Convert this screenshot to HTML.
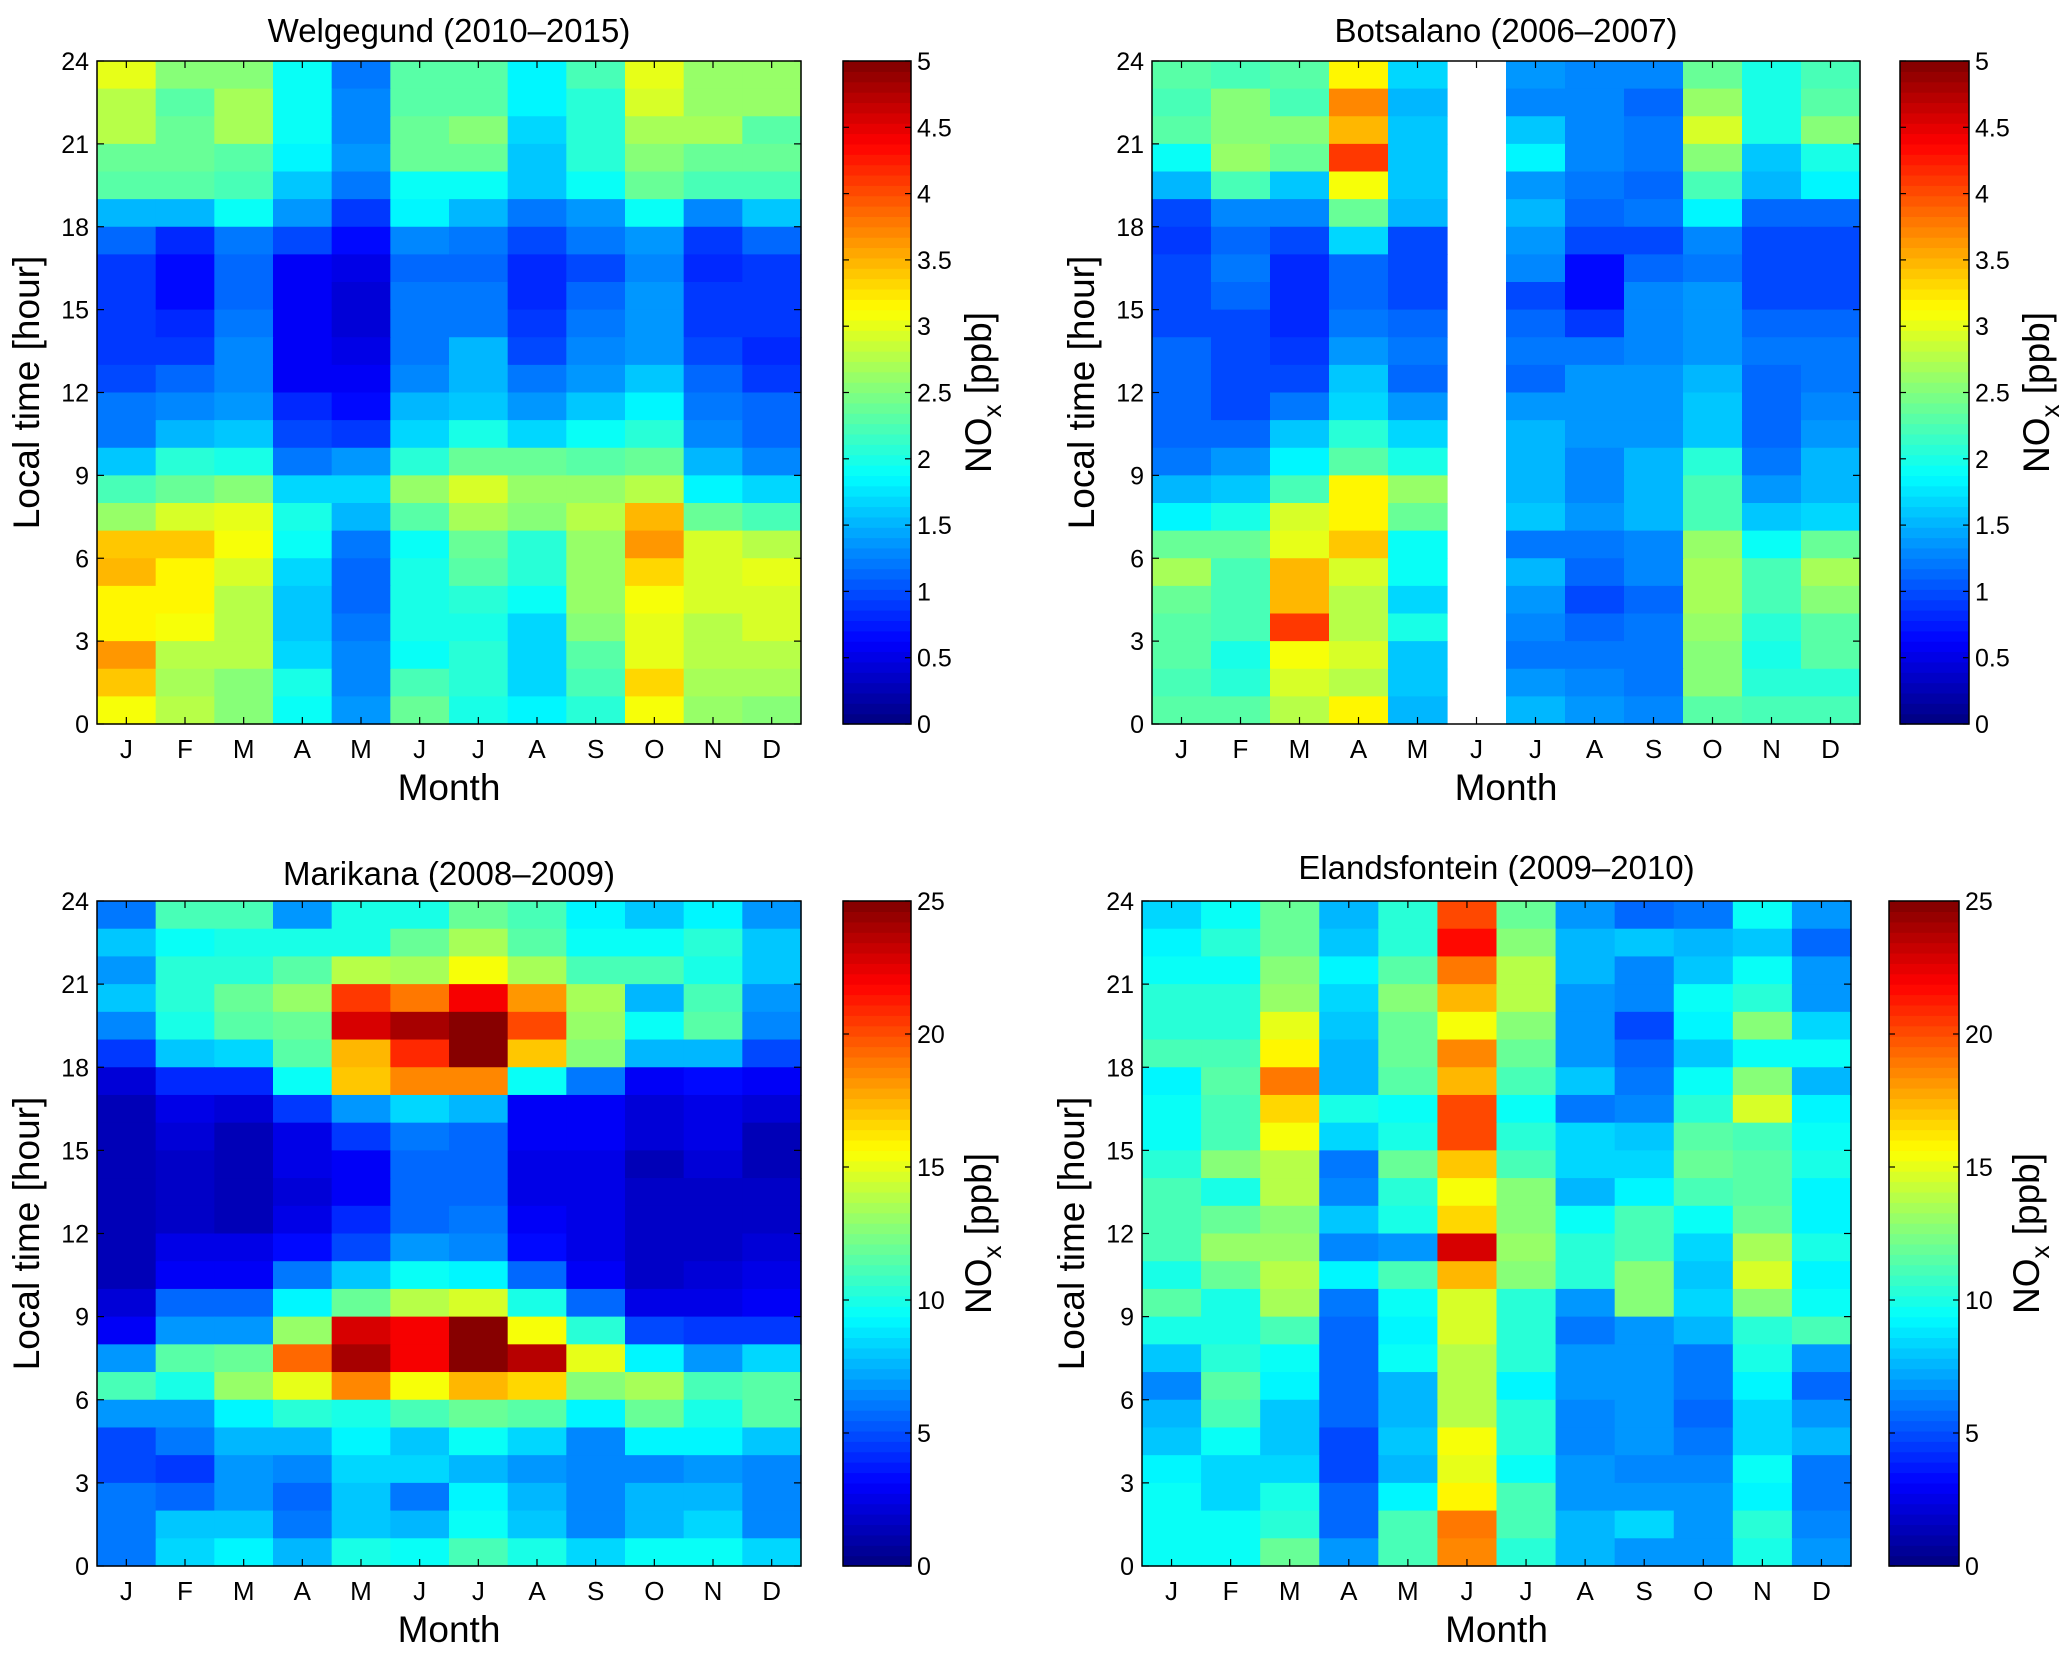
<!DOCTYPE html>
<html><head><meta charset="utf-8"><style>
html,body{margin:0;padding:0;background:#fff;overflow:hidden;}
svg text{font-family:"Liberation Sans",Arial,sans-serif;fill:#000;}
</style></head><body>
<svg id="fig" width="2067" height="1652" viewBox="0 0 2067 1652" xmlns="http://www.w3.org/2000/svg"></svg>
<script>
// Categories and tick labels
const months = ["J","F","M","A","M","J","J","A","S","O","N","D"];
const hourTicks = [0,3,6,9,12,15,18,21,24];
const cbTicksSmall = [0,0.5,1,1.5,2,2.5,3,3.5,4,4.5,5];
const cbTicksLarge = [0,5,10,15,20,25];
// Rows listed from hour 23 (top) down to hour 0 (bottom)
const welgegund = [
[3.0,2.5,2.5,1.9,1.2,2.3,2.3,1.8,2.2,3.0,2.6,2.6],
[2.8,2.3,2.7,1.9,1.3,2.3,2.3,1.8,2.1,2.9,2.6,2.6],
[2.8,2.4,2.7,1.9,1.3,2.4,2.5,1.7,2.1,2.7,2.7,2.3],
[2.4,2.4,2.3,1.8,1.4,2.4,2.4,1.6,2.1,2.5,2.4,2.4],
[2.3,2.3,2.2,1.6,1.2,1.9,1.9,1.6,1.9,2.4,2.2,2.2],
[1.5,1.5,1.9,1.4,0.9,1.8,1.5,1.2,1.4,1.9,1.3,1.6],
[1.1,0.8,1.2,1.0,0.7,1.3,1.2,1.0,1.2,1.4,0.9,1.1],
[0.9,0.7,1.1,0.6,0.5,1.1,1.1,0.8,1.0,1.3,0.8,0.9],
[0.9,0.7,1.1,0.6,0.4,1.2,1.2,0.8,1.1,1.4,0.9,0.9],
[0.9,0.8,1.2,0.6,0.4,1.2,1.2,0.9,1.2,1.4,0.9,0.9],
[0.9,0.9,1.3,0.6,0.5,1.2,1.5,1.0,1.3,1.4,1.0,0.8],
[1.0,1.1,1.3,0.6,0.6,1.3,1.5,1.2,1.4,1.6,1.1,0.9],
[1.2,1.3,1.4,0.8,0.7,1.5,1.6,1.4,1.6,1.8,1.2,1.1],
[1.2,1.5,1.6,1.0,0.9,1.7,2.0,1.7,1.9,2.1,1.3,1.1],
[1.6,2.1,2.0,1.2,1.4,2.1,2.4,2.4,2.3,2.4,1.5,1.3],
[2.2,2.4,2.5,1.7,1.7,2.6,2.9,2.6,2.6,2.8,1.8,1.7],
[2.6,2.9,3.0,2.0,1.5,2.3,2.7,2.5,2.8,3.5,2.4,2.2],
[3.4,3.4,3.1,1.9,1.2,1.9,2.4,2.1,2.6,3.6,2.9,2.8],
[3.5,3.2,2.9,1.7,1.1,2.0,2.3,2.1,2.6,3.3,2.9,3.0],
[3.2,3.2,2.8,1.6,1.1,2.0,2.1,1.9,2.6,3.1,2.9,2.9],
[3.2,3.1,2.8,1.6,1.2,2.0,2.0,1.7,2.5,3.0,2.8,2.9],
[3.6,2.8,2.8,1.7,1.3,1.9,2.1,1.7,2.3,3.0,2.8,2.8],
[3.4,2.7,2.5,2.0,1.3,2.2,2.1,1.7,2.2,3.3,2.7,2.7],
[3.1,2.8,2.5,1.9,1.4,2.4,2.0,1.8,2.1,3.1,2.6,2.5]];
const n = null;
const botsalano = [
[2.3,2.2,2.3,3.2,1.7,n,1.4,1.3,1.3,2.4,2.0,2.2],
[2.2,2.5,2.2,3.7,1.5,n,1.3,1.3,1.1,2.6,2.0,2.3],
[2.3,2.5,2.5,3.5,1.6,n,1.6,1.3,1.2,2.9,2.0,2.5],
[1.9,2.6,2.4,4.1,1.6,n,1.8,1.3,1.2,2.5,1.6,2.0],
[1.5,2.2,1.6,3.1,1.6,n,1.4,1.2,1.1,2.2,1.5,1.8],
[1.0,1.3,1.3,2.4,1.5,n,1.5,1.1,1.2,1.8,1.1,1.1],
[0.9,1.1,1.0,1.7,1.0,n,1.4,1.0,1.0,1.3,1.0,1.0],
[1.0,1.2,0.8,1.1,1.0,n,1.3,0.7,1.1,1.2,1.0,1.0],
[1.0,1.1,0.8,1.1,1.0,n,1.0,0.7,1.3,1.4,1.0,1.0],
[1.0,1.0,0.8,1.2,1.1,n,1.1,0.9,1.3,1.4,1.1,1.1],
[1.1,1.0,0.9,1.4,1.2,n,1.2,1.2,1.3,1.4,1.2,1.2],
[1.1,1.0,1.0,1.6,1.1,n,1.1,1.4,1.4,1.5,1.1,1.2],
[1.1,1.0,1.2,1.7,1.4,n,1.4,1.4,1.4,1.6,1.1,1.3],
[1.1,1.1,1.6,2.1,1.7,n,1.5,1.4,1.4,1.6,1.1,1.4],
[1.2,1.4,1.8,2.3,2.0,n,1.5,1.3,1.5,2.1,1.2,1.5],
[1.5,1.6,2.2,3.2,2.6,n,1.5,1.3,1.5,2.2,1.4,1.5],
[1.8,2.0,2.9,3.2,2.4,n,1.6,1.4,1.5,2.2,1.6,1.7],
[2.4,2.4,3.0,3.4,1.9,n,1.2,1.2,1.3,2.6,1.9,2.4],
[2.7,2.2,3.5,2.9,1.9,n,1.5,1.1,1.3,2.7,2.2,2.7],
[2.4,2.2,3.5,2.8,1.7,n,1.4,1.0,1.1,2.7,2.2,2.5],
[2.3,2.2,4.1,2.8,2.0,n,1.3,1.1,1.2,2.6,2.1,2.3],
[2.3,2.0,3.1,2.9,1.6,n,1.2,1.2,1.2,2.5,2.0,2.3],
[2.2,2.1,2.9,2.8,1.6,n,1.4,1.3,1.2,2.5,2.1,2.1],
[2.3,2.3,2.8,3.2,1.5,n,1.5,1.4,1.3,2.3,2.2,2.2]];
const marikana = [
[6,11,11,7,10,10,12,11,9,8,9,7],
[8,9.5,10,10,10,12,13.5,11.5,9.5,9.5,10.5,8],
[7,10.5,10.5,11.5,14,13.5,15.5,13.5,11,11,10,8],
[8,10.5,12,13,20.5,19,22,18,13.5,7.5,11,7],
[6.5,10,11.5,12,23,24,25,20,13,9.5,11.5,6.5],
[4.5,8,8.5,11.5,17.5,21,25,17,12.5,7.5,7.5,5],
[2,4,4,9.5,17,18.5,18.5,9.5,6,3,3.5,3],
[1.5,2.5,2,4.5,7,8.5,7.5,3,3,2,2.5,2],
[1.2,2,1.5,2.5,4.5,6,5.5,3,3,2,2.5,1.5],
[1.2,1.7,1.5,2.5,3,5.5,5.5,2.5,2.5,1.5,2,1.5],
[1.2,1.7,1.5,2,3,5.5,5.5,2.5,2.5,1.8,1.8,1.8],
[1.2,1.7,1.5,2.5,4,5.5,6,3,2.5,1.8,1.8,1.8],
[1.5,2.5,2.5,3.5,5,7,6.5,3.5,2.5,1.8,1.8,2],
[1.5,3,3,6,8,9.5,9,5.5,3,1.8,2,2.5],
[2,5.5,5.5,9,12,14,14.5,10,5.5,2.5,2.5,3],
[3,7,7,13,23,22,25,15.5,10.5,5,4.5,4.5],
[7,11.5,12,19.5,24,22,25,23.5,15,9,7,8.5],
[11,10,13,15,18.5,15.5,17.5,16.5,12.5,13.5,11,11.5],
[7,7,9,10.5,10,11,12,11.5,9,12,10,11.5],
[5,6,7.5,7.5,9,8,9.5,8.5,6.5,9,9,8],
[5,4.5,7,6.5,8.5,8.5,7.5,7,6.5,6.5,7,6.5],
[6,5.5,7,5.5,8,6,9,7.5,6.5,7.5,7.5,6.5],
[6,8,8,6,8,7.5,9.5,8,6.5,7.5,8.5,6.5],
[6,8.5,9,7.5,10,9.5,11,10,8.5,9.5,9.5,8.5]];
const elandsfontein = [
[8.5,9.5,12,7.5,10.5,20,12,7,5.5,6,9.5,7],
[9,10.5,12,8,10.5,21.5,12.5,7.5,8,7.5,8,5.5],
[9.5,9.5,12.5,9,11.5,19,14,7.5,6.5,8,9.5,7],
[10.5,10.5,13,8.5,12.5,17.5,14,7,6.5,9.5,10.5,7],
[10.5,10.5,15,8,12,15.5,12.5,7,5,9,12.5,8.5],
[11,11,16,7.5,12,18.5,12,7,5.5,8,9.5,9.5],
[9,11.5,19,7.5,11.5,17.5,11,8,6,9.5,12.5,7.5],
[9.5,11,16.5,10,9.5,20,9.5,6,6.5,10.5,14.5,9],
[9.5,11,15.5,8.5,10,20,10.5,8.5,8,11.5,11,9.5],
[10.5,12.5,14,6,12,17,11,8.5,8.5,12,11.5,10],
[11,10,14,6.5,10.5,15.5,12.5,7.5,9,11,11.5,9],
[11,12,12.5,8,10,16.5,12.5,9.5,11,9.5,12,9],
[11,13,13,6.5,7,23,13,10.5,11,8.5,13.5,10],
[10,12,14,9,11,17.5,12.5,10.5,12.5,8,14.5,9],
[11.5,10,13.5,6,9.5,14.5,10.5,7,12.5,8.5,12.5,9.5],
[10,10,11,5.5,9,14.5,10.5,6,7,7.5,10.5,11],
[8,10.5,9.5,5.5,9.5,14,10.5,7,7,6,10,7],
[6.5,11.5,9,5.5,7.5,14,9,7,7,6,9,5.5],
[7.5,11,8,5.5,7.5,14,10.5,6.5,7,5.5,8.5,7],
[8,9.5,8,5,8,15.5,10.5,6.5,7,6,8.5,7.5],
[9,8.5,8.5,5,7.5,15,9.5,7,6.5,6.5,9.5,6],
[9.5,8.5,10,5.5,9,16,11,7,7,7,9,6],
[9.5,9.5,10.5,5.5,11,19,11,7.5,8.5,7,10.5,6.5],
[9.5,9.5,12,7,11,18.5,10.5,7.5,7,7,10,7]];

const NS = "http://www.w3.org/2000/svg";
const svg = document.getElementById('fig');
function mk(tag, attrs, parent){ const e=document.createElementNS(NS,tag); for(const k in attrs) e.setAttribute(k,attrs[k]); (parent||svg).appendChild(e); return e; }
function jet(f){
  let i=Math.floor(f*64); if(i<0)i=0; if(i>63)i=63; const t=(i+0.5)/64;
  const c=x=>Math.round(255*Math.max(0,Math.min(1,x)));
  return `rgb(${c(1.5-Math.abs(4*t-3))},${c(1.5-Math.abs(4*t-2))},${c(1.5-Math.abs(4*t-1))})`;
}
function panel(cfg){
  const {id,title,data,vmax,cbTicks,L,R,T,B,cbL,cbR,titleY} = cfg;
  const g = mk('g',{});
  
  
  const xs = i => L + (R-L)*i/12;
  const ys = h => B - (B-T)*h/24;
  data.forEach((row,r)=>{
    const hour = 23-r;
    row.forEach((v,c)=>{
      if(v===null) return;
      const rect = mk('rect',{x:xs(c),y:ys(hour+1),width:xs(c+1)-xs(c)+0.6,height:ys(hour)-ys(hour+1)+0.6,fill:jet(v/vmax)},g);
      
      
    });
  });
  const frame = mk('rect',{x:L,y:T,width:R-L,height:B-T,fill:'none',stroke:'#000','stroke-width':1.5},g);
  
  
  hourTicks.forEach(h=>{
    const y=ys(h);
    mk('line',{x1:L,x2:L+7,y1:y,y2:y,stroke:'#000','stroke-width':1.2},g);
    mk('line',{x1:R,x2:R-7,y1:y,y2:y,stroke:'#000','stroke-width':1.2},g);
    const t=mk('text',{x:L-8,y:y+9,'text-anchor':'end','font-size':25},g); t.textContent=h;
    
    
  });
  months.forEach((m,i)=>{
    const x=xs(i+0.5);
    mk('line',{x1:x,x2:x,y1:B,y2:B-7,stroke:'#000','stroke-width':1.2},g);
    mk('line',{x1:x,x2:x,y1:T,y2:T+7,stroke:'#000','stroke-width':1.2},g);
    const t=mk('text',{x:x,y:B+34,'text-anchor':'middle','font-size':26},g); t.textContent=m;
    
    
  });
  const tt=mk('text',{x:(L+R)/2,y:titleY,'text-anchor':'middle','font-size':33},g); tt.textContent=title;
  
  
  const xl=mk('text',{x:(L+R)/2,y:B+76,'text-anchor':'middle','font-size':37},g); xl.textContent='Month';
  
  
  const yl=mk('text',{x:0,y:0,'text-anchor':'middle','font-size':37,transform:`translate(${L-58},${(T+B)/2}) rotate(-90)`},g); yl.textContent='Local time [hour]';
  
  
  const cb=mk('g',{},g);
  
  
  for(let i=0;i<64;i++){
    const y0=B-(B-T)*(i+1)/64, y1=B-(B-T)*i/64;
    mk('rect',{x:cbL,y:y0,width:cbR-cbL,height:y1-y0+0.6,fill:jet((i+0.5)/64)},cb);
  }
  mk('rect',{x:cbL,y:T,width:cbR-cbL,height:B-T,fill:'none',stroke:'#000','stroke-width':1.5},cb);
  cbTicks.forEach(v=>{
    const y=B-(B-T)*v/vmax;
    mk('line',{x1:cbL,x2:cbL+6,y1:y,y2:y,stroke:'#000','stroke-width':1.2},cb);
    mk('line',{x1:cbR,x2:cbR-6,y1:y,y2:y,stroke:'#000','stroke-width':1.2},cb);
    const t=mk('text',{x:cbR+6,y:y+9,'font-size':25},cb); t.textContent=v;
    
    
  });
  const cl=mk('text',{x:0,y:0,'text-anchor':'middle','font-size':37,transform:`translate(${cbR+80},${(T+B)/2}) rotate(-90)`},g);
  cl.innerHTML='NO<tspan font-size="26" dy="10">x</tspan><tspan dy="-10"> [ppb]</tspan>';
  
  
}
panel({id:'welgegund',title:'Welgegund (2010\u20132015)',data:welgegund,vmax:5,cbTicks:cbTicksSmall,L:97,R:801,T:61,B:724,cbL:843,cbR:911,titleY:42});
panel({id:'botsalano',title:'Botsalano (2006\u20132007)',data:botsalano,vmax:5,cbTicks:cbTicksSmall,L:1152,R:1860,T:61,B:724,cbL:1900,cbR:1969,titleY:42});
panel({id:'marikana',title:'Marikana (2008\u20132009)',data:marikana,vmax:25,cbTicks:cbTicksLarge,L:97,R:801,T:901,B:1566,cbL:843,cbR:911,titleY:885});
panel({id:'elandsfontein',title:'Elandsfontein (2009\u20132010)',data:elandsfontein,vmax:25,cbTicks:cbTicksLarge,L:1142,R:1851,T:901,B:1566,cbL:1889,cbR:1959,titleY:879});
</script>
</body></html>
